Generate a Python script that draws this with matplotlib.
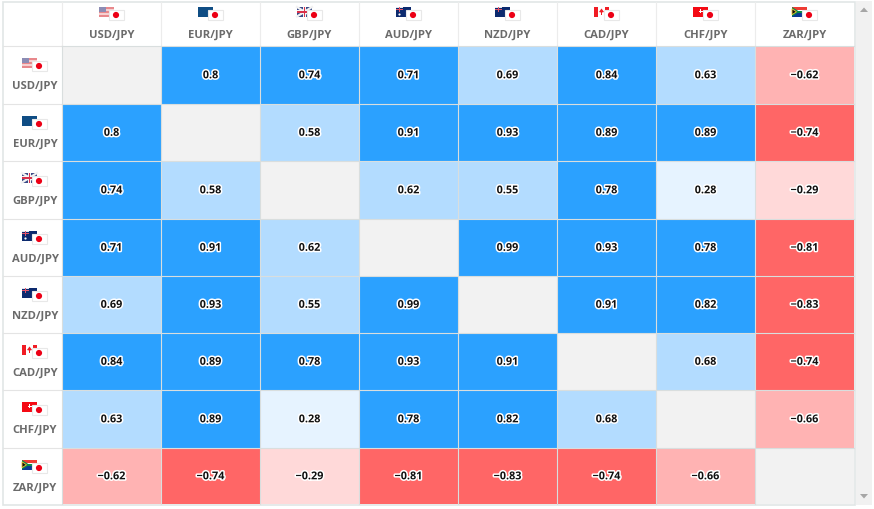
"""Currency pair correlation matrix."""

import matplotlib

matplotlib.use("Agg")

import matplotlib.patheffects as pe
import matplotlib.pyplot as plt
from matplotlib.colors import BoundaryNorm, ListedColormap
from matplotlib.patches import Circle, Polygon, Rectangle
import numpy as np

plt.rcParams["font.family"] = ["Open Sans", "DejaVu Sans"]

PAIRS = ["USD/JPY", "EUR/JPY", "GBP/JPY", "AUD/JPY", "NZD/JPY", "CAD/JPY", "CHF/JPY", "ZAR/JPY"]
USD = [None, 0.8, 0.74, 0.71, 0.69, 0.84, 0.63, -0.62]
EUR = [0.8, None, 0.58, 0.91, 0.93, 0.89, 0.89, -0.74]
GBP = [0.74, 0.58, None, 0.62, 0.55, 0.78, 0.28, -0.29]
AUD = [0.71, 0.91, 0.62, None, 0.99, 0.93, 0.78, -0.81]
NZD = [0.69, 0.93, 0.55, 0.99, None, 0.91, 0.82, -0.83]
CAD = [0.84, 0.89, 0.78, 0.93, 0.91, None, 0.68, -0.74]
CHF = [0.63, 0.89, 0.28, 0.78, 0.82, 0.68, None, -0.66]
ZAR = [-0.62, -0.74, -0.29, -0.81, -0.83, -0.74, -0.66, None]
ROWS = [USD, EUR, GBP, AUD, NZD, CAD, CHF, ZAR]

BIN_EDGES = [-1.0, -0.7, -0.5, 0.0, 0.5, 0.7, 1.0]
BIN_COLORS = ["#ff6666", "#ffb3b3", "#ffd9d9", "#e6f3ff", "#b3dcff", "#2ba1ff"]

X_EDGES = np.array([62, 161, 260, 359, 458, 557, 656, 755, 854])
Y_EDGES = np.array([47, 105, 162, 220, 277, 334, 391, 449, 505])
BORDER = "#e1e6e6"
LABEL = "#6b6b6b"


def r(ax, x, y, w, h, color, z=5, **kw):
    ax.add_patch(Rectangle((x, y), w, h, facecolor=color, edgecolor="none", zorder=z, **kw))


def draw_flag(ax, pair, x, y):
    w, h = 15, 9.5
    code = pair[:3]
    if code == "USD":
        r(ax, x, y, w, h, "#f6d0d0")
        for i in range(0, 5, 2):
            r(ax, x, y + i * 2, w, 1.6, "#e8888c", z=5.1)
        r(ax, x, y, 7, 5, "#8c8cb4", z=5.2)
    elif code == "EUR":
        r(ax, x, y, w, h, "#0f4d84")
    elif code == "GBP":
        r(ax, x, y, w, h, "#3a4a86")
        ax.plot([x, x + w], [y, y + h], color="#f2f2f2", lw=1.6, zorder=5.1)
        ax.plot([x, x + w], [y + h, y], color="#f2f2f2", lw=1.6, zorder=5.1)
        r(ax, x + 5.5, y, 3.5, h, "#f4f4f4", z=5.2)
        r(ax, x, y + 3.2, w, 3, "#f4f4f4", z=5.2)
        r(ax, x + 6.5, y, 1.6, h, "#d8304a", z=5.3)
        r(ax, x, y + 4, w, 1.5, "#d8304a", z=5.3)
    elif code in ("AUD", "NZD"):
        r(ax, x, y, w, h, "#0c2a6e")
        r(ax, x, y, 7, 1.2, "#e4e4ee", z=5.1)
        r(ax, x + 3, y, 1.2, 5, "#e4546a", z=5.2)
        r(ax, x, y + 2, 7, 1.2, "#e4546a", z=5.2)
        if code == "AUD":
            ax.add_patch(Circle((x + 3.5, y + 7.5), 1.1, facecolor="#ffffff", edgecolor="none", zorder=5.2))
    elif code == "CAD":
        r(ax, x, y, w, h, "#ffffff")
        r(ax, x, y, 3.8, h, "#f01c24", z=5.1)
        r(ax, x + 11.2, y, 3.8, h, "#f01c24", z=5.1)
        ax.add_patch(Polygon([(x + 7.5, y + 1.5), (x + 10, y + 5), (x + 8, y + 5.5), (x + 8, y + 8),
                              (x + 7, y + 8), (x + 7, y + 5.5), (x + 5, y + 5)],
                             facecolor="#f01c24", edgecolor="none", zorder=5.1))
    elif code == "CHF":
        r(ax, x, y, w, h, "#f40a14")
        r(ax, x + 5.5, y + 3.5, 4, 1.5, "#ffffff", z=5.1)
        r(ax, x + 6.8, y + 2.2, 1.5, 4.2, "#ffffff", z=5.1)
    elif code == "ZAR":
        r(ax, x, y, w, h / 2, "#ee3b33")
        r(ax, x, y + h / 2, w, h / 2, "#0c3a94")
        r(ax, x + 4, y + 3.4, 11, 2.8, "#ffffff", z=5.1)
        r(ax, x + 4, y + 4, 11, 1.6, "#0a8a4a", z=5.2)
        ax.add_patch(Polygon([(x, y), (x + 7.5, y + h / 2), (x, y + h)], facecolor="#0a8a4a", edgecolor="none", zorder=5.3))
        ax.add_patch(Polygon([(x, y + 1.8), (x + 4.5, y + h / 2), (x, y + h - 1.8)], facecolor="#111111", edgecolor="#f2c12e", lw=0.6, zorder=5.4))
    # the yen flag sits over the lower right corner
    ax.add_patch(Rectangle((x + 9.5, y + 3), 15, 10, facecolor="#ffffff", edgecolor="#e8e8e8", lw=0.8, zorder=6))
    ax.add_patch(Circle((x + 17, y + 8), 3.1, facecolor="#ec0015", edgecolor="none", zorder=7))


def main():
    fig = plt.figure(figsize=(8.74, 5.10), dpi=100)
    ax = fig.add_axes([0, 0, 1, 1])
    ax.set_xlim(0, 874)
    ax.set_ylim(510, 0)
    ax.axis("off")

    # frame and scrollbar
    ax.add_patch(Rectangle((2.5, 2.5), 852.5, 503.5, facecolor="#ffffff", edgecolor=BORDER, lw=1.2, zorder=0))
    r(ax, 856, 2, 16, 504, "#f1f1f1", z=0)
    ax.add_patch(Polygon([(860, 13), (864, 8.5), (868, 13)], facecolor="#a6a6a6", edgecolor="none", zorder=1))
    ax.add_patch(Polygon([(860, 495), (864, 499.5), (868, 495)], facecolor="#a6a6a6", edgecolor="none", zorder=1))

    values = np.array(ROWS, dtype=float)
    cmap = ListedColormap(BIN_COLORS)
    cmap.set_bad("#f2f2f2")
    ax.pcolormesh(X_EDGES, Y_EDGES, np.ma.masked_invalid(values), cmap=cmap,
                  norm=BoundaryNorm(BIN_EDGES, cmap.N), zorder=2)

    # grid lines between the cells are thin and pale
    for x in X_EDGES[:-1]:
        ax.plot([x, x], [3, 47], color="#ececec", lw=0.8, zorder=1)
        ax.plot([x, x], [47, 505], color="#d9dede", lw=0.8, zorder=3)
    for y in Y_EDGES[:-1]:
        ax.plot([3, 62], [y, y], color="#e4e4e4", lw=0.8, zorder=1)
        ax.plot([62, 854], [y, y], color="#d9dede", lw=0.8, zorder=3)

    for i, pair in enumerate(PAIRS):
        cx = (X_EDGES[i] + X_EDGES[i + 1]) / 2
        draw_flag(ax, pair, cx - 12.5, 8)
        ax.text(cx, 35, pair, ha="center", va="center", fontsize=8.1, weight="bold", color=LABEL)
        top = Y_EDGES[i]
        draw_flag(ax, pair, 22, top + 12)
        ax.text(35, top + 39, pair, ha="center", va="center", fontsize=8.1, weight="bold", color=LABEL)

    halo = [pe.withStroke(linewidth=2.2, foreground="white")]
    for row, vals in enumerate(ROWS):
        for col, val in enumerate(vals):
            if val is None:
                continue
            cx = (X_EDGES[col] + X_EDGES[col + 1]) / 2
            cy = (Y_EDGES[row] + Y_EDGES[row + 1]) / 2
            ax.text(cx, cy + 0.8, f"{val:g}".replace("-", "\u2212"), ha="center", va="center",
                    fontsize=7.8, weight="bold", color="#111111", path_effects=halo, zorder=8)

    fig.savefig("out.png", dpi=100)
    plt.close(fig)


if __name__ == "__main__":
    main()
